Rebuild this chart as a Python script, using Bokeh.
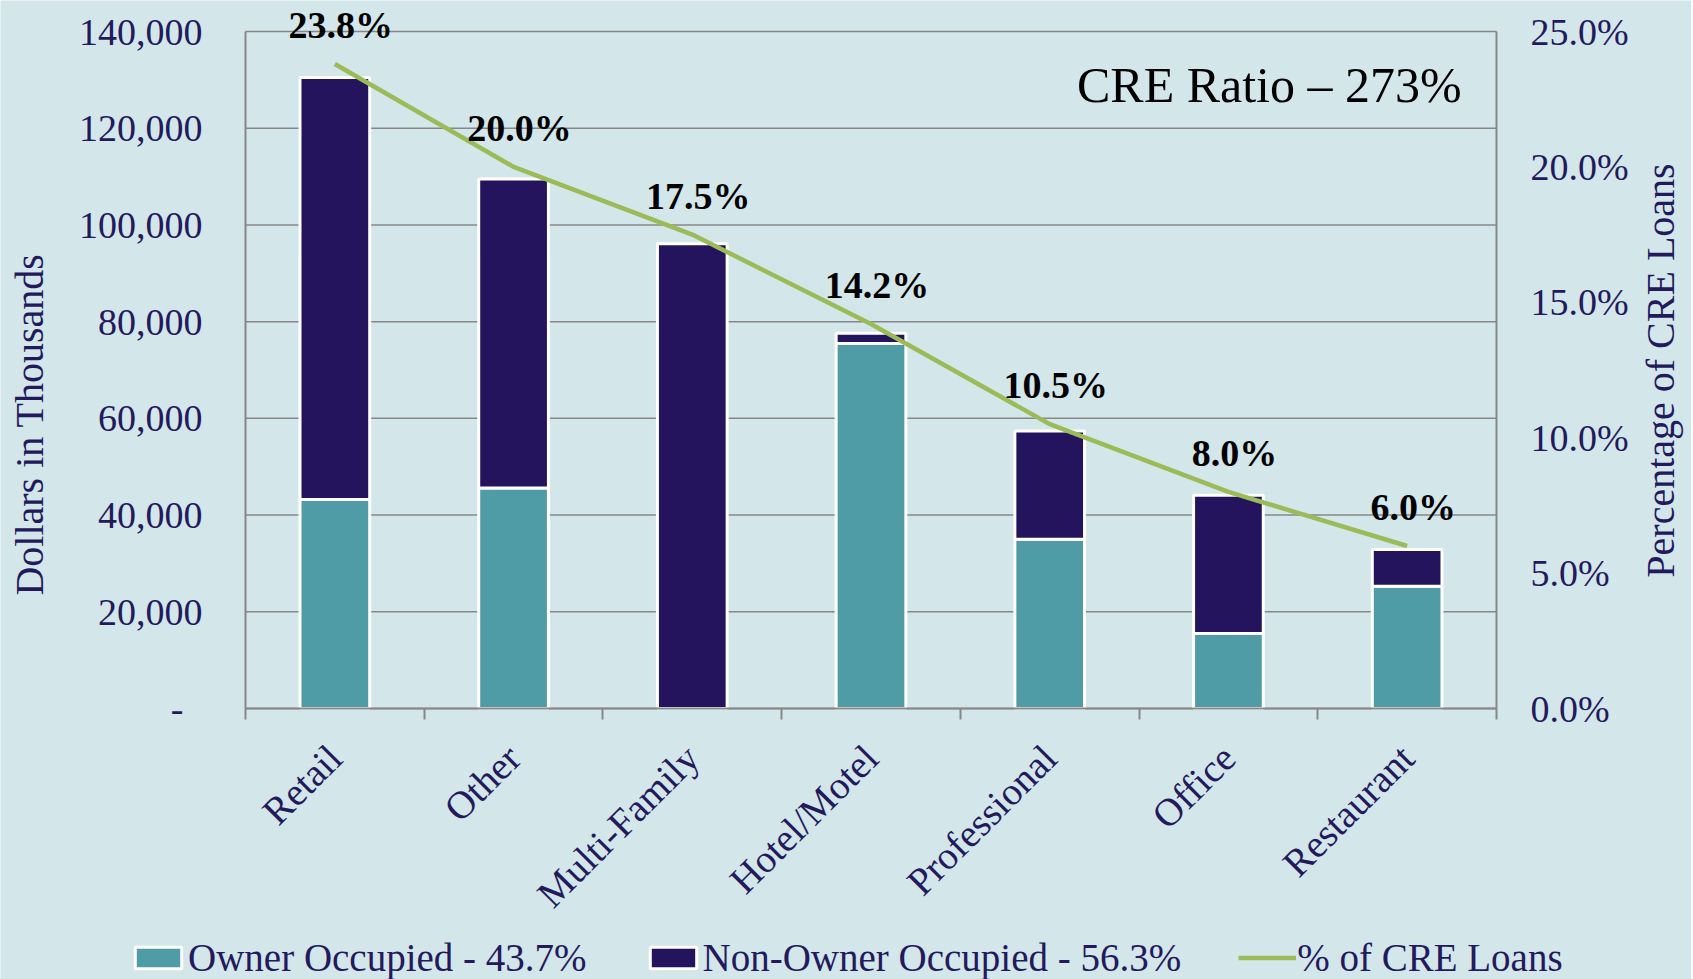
from math import pi
from bokeh.plotting import figure
from bokeh.models import (ColumnDataSource, LinearAxis, Range1d, FixedTicker,
                          NumeralTickFormatter, Legend, LegendItem, LabelSet, Label)
from bokeh.embed import file_html
from bokeh.resources import INLINE

# ---------------- data ----------------
categories = ["Retail", "Other", "Multi-Family", "Hotel/Motel", "Professional", "Office", "Restaurant"]
owner_occupied = [43200, 45600, 0, 75500, 35000, 15500, 25300]
non_owner_occupied = [87300, 63900, 96100, 2100, 22400, 28600, 7600]
pct_cre_loans = [23.8, 20.0, 17.5, 14.2, 10.5, 8.0, 6.0]
legend_labels = ["Owner Occupied - 43.7%", "Non-Owner Occupied - 56.3%", "% of CRE Loans"]
left_ticks = [0, 20000, 40000, 60000, 80000, 100000, 120000, 140000]
right_ticks = [0, 5, 10, 15, 20, 25]
left_title = "Dollars in Thousands"
right_title = "Percentage of CRE Loans"
cre_ratio_text = "CRE Ratio \u2013 273%"

# ---------------- styles / layout ----------------
BG = "#D3E6EA"
TEAL = "#4F9CA6"
NAVY = "#24145E"
GREEN = "#9BBB59"
GRID = "#878787"
TXT = "#231A5E"
FONT = "Liberation Serif"
NBSP = "\u00a0"

W, H = 1691, 979                 # whole canvas is the drawing frame
PLOT_L, PLOT_R = 245, 1496       # pixel columns of the category axis ends
PLOT_TOP, BASE = 31, 708         # pixel rows of the top gridline and the baseline
n = len(categories)
px_per_cat = (PLOT_R - PLOT_L) / n
px_per_unit = (BASE - PLOT_TOP) / left_ticks[-1]
x_lo, x_hi = -PLOT_L / px_per_cat, n + (W - PLOT_R) / px_per_cat
y_lo, y_hi = -(H - BASE) / px_per_unit, BASE / px_per_unit
pct_scale = right_ticks[-1] / left_ticks[-1]

xs = [i + 0.5 for i in range(n)]
src = ColumnDataSource(dict(
    x=xs, cat=categories, owner=owner_occupied, non_owner=non_owner_occupied,
    pct=pct_cre_loans, pct_label=[f"{v:.1f}%" for v in pct_cre_loans],
))

p = figure(frame_width=W, frame_height=H,
           x_range=Range1d(x_lo, x_hi), y_range=Range1d(y_lo, y_hi),
           x_axis_location=None, y_axis_location=None,
           output_backend="svg", toolbar_location=None,
           background_fill_color=BG, border_fill_color=BG, min_border=0)
p.outline_line_color = None
p.grid.visible = False
p.extra_y_ranges = {"pct": Range1d(y_lo * pct_scale, y_hi * pct_scale)}

# horizontal gridlines across the plotting area only
p.segment(x0=[0] * len(left_ticks), x1=[n] * len(left_ticks), y0=left_ticks, y1=left_ticks,
          line_color=GRID, line_width=1.5)

bars = p.vbar_stack(["owner", "non_owner"], x="x", width=0.39, source=src,
                    color=[TEAL, NAVY], line_color="white", line_width=3)
line = p.line("x", "pct", source=src, y_range_name="pct", line_color=GREEN, line_width=4.5)

# ---------------- axes (fixed at the plotting-area edges) ----------------
xa = LinearAxis(fixed_location=0, bounds=(0, n),
                ticker=FixedTicker(ticks=xs, minor_ticks=list(range(n + 1))))
xa.major_label_overrides = {x: c for x, c in zip(xs, categories)}
xa.major_label_orientation = pi / 4
xa.major_tick_out = 0
xa.major_tick_in = 0
xa.minor_tick_out = 11
xa.minor_tick_in = 0
xa.major_label_standoff = 32
p.add_layout(xa, "below")

ya = LinearAxis(fixed_location=0, bounds=(0, left_ticks[-1]),
                ticker=FixedTicker(ticks=left_ticks),
                formatter=NumeralTickFormatter(format="0,0"))
ya.major_label_overrides = {0: "-" + NBSP * 2}
ya.major_label_standoff = 43
ya.major_tick_out = 0
ya.major_tick_in = 0
ya.minor_tick_out = 0
ya.minor_tick_in = 0
p.add_layout(ya, "left")

ra = LinearAxis(y_range_name="pct", fixed_location=n, bounds=(0, right_ticks[-1]),
                ticker=FixedTicker(ticks=right_ticks))
ra.major_label_overrides = {t: f"{t:.1f}%" for t in right_ticks}
ra.major_label_standoff = 34
ra.major_tick_out = 0
ra.major_tick_in = 0
ra.minor_tick_out = 0
ra.minor_tick_in = 0
p.add_layout(ra, "right")

for ax in (xa, ya, ra):
    ax.axis_line_color = GRID
    ax.axis_line_width = 2
    ax.minor_tick_line_color = GRID
    ax.minor_tick_line_width = 2
    ax.major_label_text_font = FONT
    ax.major_label_text_font_size = "38px"
    ax.major_label_text_color = TXT
xa.major_label_text_font_size = "39px"

# axis titles (reading bottom to top)
p.add_layout(Label(x=(29 - PLOT_L) / px_per_cat, y=(BASE - 424) / px_per_unit,
                   text=left_title, angle=pi / 2, text_align="center", text_baseline="middle",
                   text_font=FONT, text_font_size="40px", text_color=TXT))
p.add_layout(Label(x=n + (1660 - PLOT_R) / px_per_cat, y=(BASE - 370) / px_per_unit,
                   text=right_title, angle=pi / 2, text_align="center", text_baseline="middle",
                   text_font=FONT, text_font_size="40px", text_color=TXT))

labels = LabelSet(x="x", y="pct", text="pct_label", source=src, y_range_name="pct",
                  x_offset=6, y_offset=39, text_align="center", text_baseline="middle",
                  text_font=FONT, text_font_size="38px", text_font_style="bold",
                  text_color="black")
p.add_layout(labels)

p.add_layout(Label(x=6.805, y=129000, text=cre_ratio_text, text_align="right",
                   text_baseline="middle", text_font=FONT, text_font_size="50px",
                   text_color="black"))

legend = Legend(items=[LegendItem(label=legend_labels[0], renderers=[bars[0]]),
                       LegendItem(label=legend_labels[1], renderers=[bars[1]]),
                       LegendItem(label=legend_labels[2], renderers=[line])],
                orientation="horizontal", location=(129, -1),
                glyph_width=58, glyph_height=27, label_standoff=1, spacing=57,
                label_text_font=FONT, label_text_font_size="39px", label_text_color=TXT,
                background_fill_alpha=0, border_line_alpha=0, padding=0, margin=0)
p.add_layout(legend)

open("out.html", "w").write(file_html(p, INLINE))
